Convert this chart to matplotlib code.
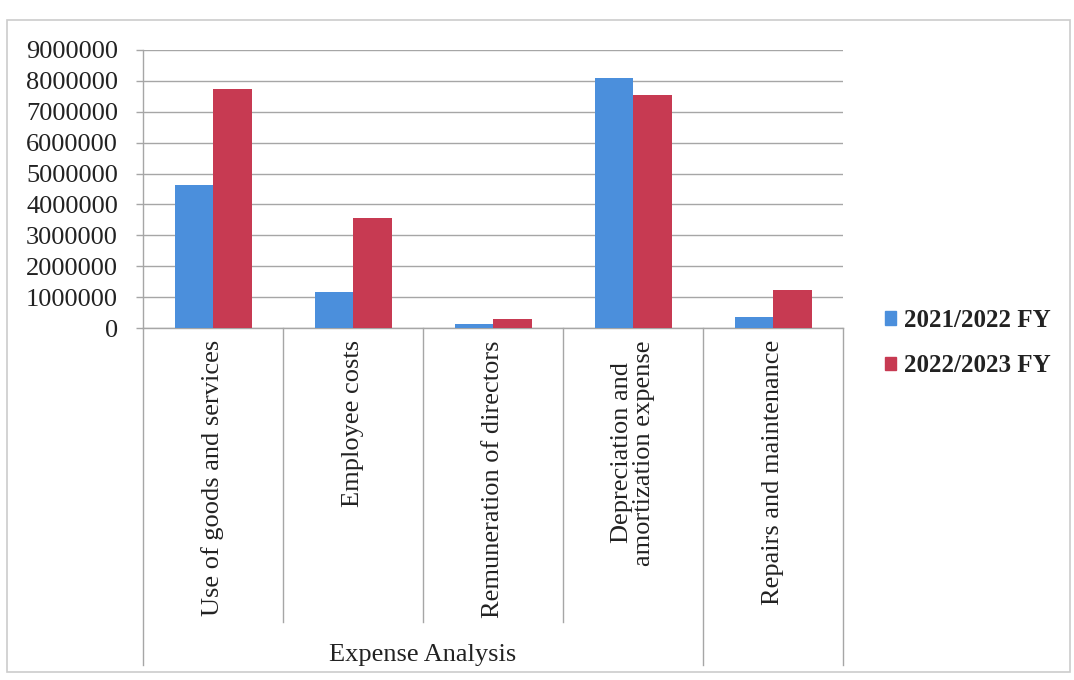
import matplotlib.pyplot as plt
from matplotlib.patches import Patch, Rectangle
import numpy as np

categories = ["Use of goods and services", "Employee costs", "Remuneration of directors",
              "Depreciation and\namortization expense", "Repairs and maintenance"]
fy_2122 = [4620000, 1150000, 120000, 8100000, 350000]
fy_2223 = [7730000, 3550000, 300000, 7550000, 1220000]
series_names = ["2021/2022 FY", "2022/2023 FY"]
y_ticks = list(range(0, 9000001, 1000000))
group_label = "Expense Analysis"

BLUE = "#4b8fdc"
RED = "#c73a52"
GRID = "#a6a6a6"
TXT = "#222222"

plt.rcParams['font.family'] = ['Liberation Serif', 'DejaVu Serif']

W, H = 1074, 680
fig = plt.figure(figsize=(W / 100, H / 100), dpi=100, facecolor='white')

# outer chart frame
fig.patches.append(Rectangle((7 / W, 1 - 672 / H), 1063 / W, 652 / H, transform=fig.transFigure,
                             fill=False, edgecolor="#cccccc", linewidth=1.2))

left, right, top, bottom = 143, 843, 50, 328
ax = fig.add_axes([left / W, 1 - bottom / H, (right - left) / W, (bottom - top) / H])

x = np.arange(len(categories))
bw = 0.275
ax.bar(x - bw / 2, fy_2122, width=bw, color=BLUE, zorder=3)
ax.bar(x + bw / 2, fy_2223, width=bw, color=RED, zorder=3)

ax.set_xlim(-0.5, len(categories) - 0.5)
ax.set_ylim(0, 9000000)
ax.set_yticks(y_ticks)
ax.set_yticklabels([str(v) for v in y_ticks], fontsize=19, color=TXT)
ax.yaxis.grid(True, color=GRID, linewidth=1)
ax.set_axisbelow(True)
ax.tick_params(axis='y', length=5, width=1, color=GRID, pad=13)
ax.set_xticks([])

for s in ['top', 'right']:
    ax.spines[s].set_visible(False)
for s in ['left', 'bottom']:
    ax.spines[s].set_color(GRID)
    ax.spines[s].set_linewidth(1)

trans = ax.get_xaxis_transform()
ph = bottom - top
inner_end = -(622 - bottom) / ph
outer_end = -(665 - bottom) / ph

for i in range(len(categories) + 1):
    xb = i - 0.5
    end = outer_end if i in (0, 4, 5) else inner_end
    ax.plot([xb, xb], [0, end], transform=trans, color=GRID, linewidth=1, clip_on=False)

label_top = -(340 - bottom) / ph
for i, name in enumerate(categories):
    ax.text(i, label_top, name, transform=trans, rotation=90, ha='center', va='top',
            fontsize=19, color=TXT, linespacing=1.0, multialignment='center')

ax.text(1.5, -(655 - bottom) / ph, group_label, transform=trans, ha='center', va='center',
        fontsize=19, color=TXT)

handles = [Patch(color=BLUE), Patch(color=RED)]
leg = fig.legend(handles, series_names, loc='center left',
                 bbox_to_anchor=(862 / W, 1 - 343 / H), frameon=False,
                 handlelength=0.45, handleheight=0.45, handletextpad=0.35,
                 labelspacing=0.9, prop={'weight': 'bold', 'size': 18})
for t in leg.get_texts():
    t.set_color(TXT)

fig.savefig("out.png", dpi=100, facecolor='white')
